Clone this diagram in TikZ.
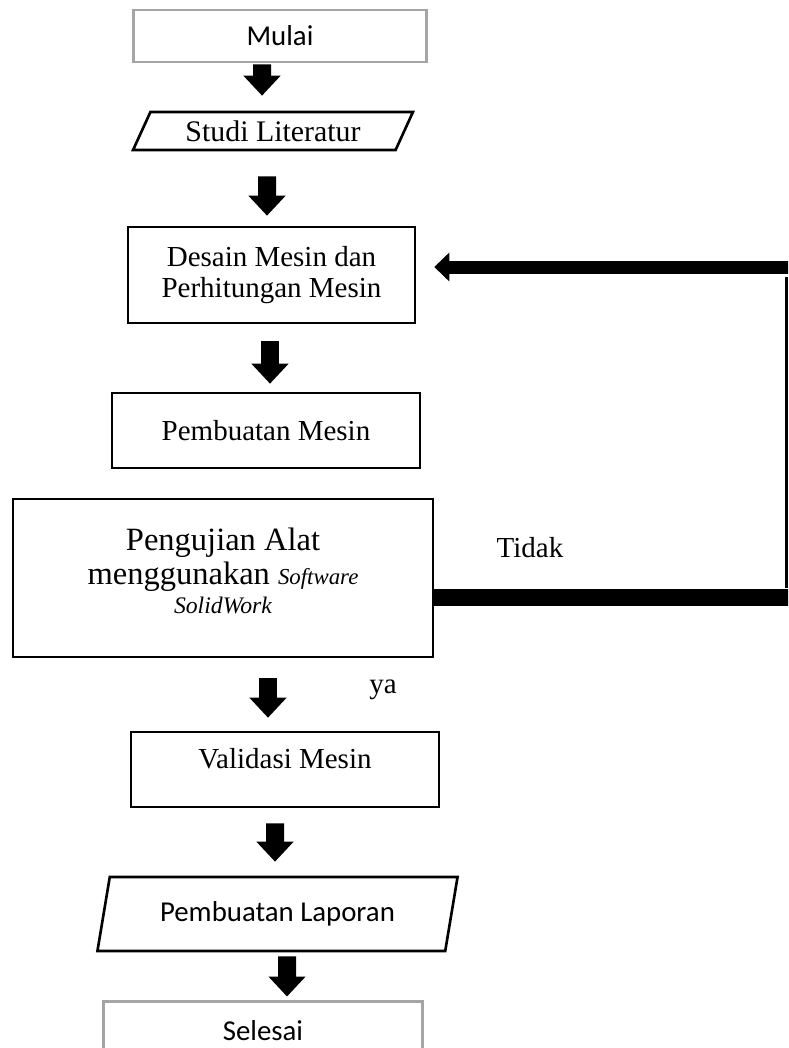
\documentclass[tikz,border=0pt]{standalone}
\usepackage{fontspec}
\setmainfont{Liberation Serif}
\newfontfamily\calibri{Carlito}
\usetikzlibrary{shapes, arrows.meta, positioning, calc}
\definecolor{boxgray}{HTML}{A5A5A5}
\tikzset{terminal/.style={draw=boxgray, line width=1.7pt, align=center, font=\calibri\fontsize{16.4}{19}\selectfont}}
\tikzset{process/.style={draw, line width=1.5pt, align=center}}
\tikzset{io/.style={draw, line width=1.5pt, trapezium, trapezium stretches=true, align=center}}
\tikzset{blockarrow/.style={line width=0.36cm, -{Triangle[length=0.4cm, width=0.72cm]}}}
\tikzset{loopline/.style={line width=0.34cm}}
\tikzset{looparrow/.style={line width=0.26cm, -{Triangle[length=0.3cm, width=0.56cm]}}}

\begin{document}
\begin{tikzpicture}[x=0.02cm, y=-0.02cm, font=\fontsize{16.5}{17.6}\selectfont]
\clip (0,0) rectangle (788,1048);
\node[terminal, minimum width=5.88cm, minimum height=1.04cm] (start) at (280,36) {Mulai};
\node[io, trapezium left angle=68, trapezium right angle=112, minimum width=5.6cm, minimum height=0.76cm, font=\fontsize{17}{19}\selectfont] (studi) at (273,131) {Studi Literatur};
\node[process, minimum width=5.74cm, minimum height=1.92cm] (design) at (271.5,275) {Desain Mesin dan\\Perhitungan Mesin};
\node[process, minimum width=6.16cm, minimum height=1.5cm] (build) at (266,430.5) {Pembuatan Mesin};
\node[process, minimum width=8.4cm, minimum height=3.16cm, font=\fontsize{18.5}{19}\selectfont, text depth=8pt] (test) at (223,578) {Pengujian Alat\\menggunakan {\itshape\fontsize{13}{15}\selectfont Software}\\[-2pt]{\itshape\fontsize{13.5}{15}\selectfont SolidWork}};
\node[process, minimum width=6.16cm, minimum height=1.5cm, text depth=13pt] (valid) at (285,769.5) {Validasi Mesin};
\node[io, trapezium left angle=76, trapezium right angle=104, minimum width=7.22cm, minimum height=1.48cm, font=\calibri\fontsize{16.4}{19}\selectfont] (report) at (277.5,914) {Pembuatan Laporan};
\node[terminal, minimum width=6.4cm, minimum height=1.18cm] (stop) at (263,1030.5) {Selesai};

\node (no) at (530,548) {Tidak};
\node (yes) at (383,690) {ya};

\draw[blockarrow] ($(start.south)+(-18,1)$) -- ($(studi.north)+(-11,-15)$);
\draw[blockarrow] ($(studi.south)+(-6,25)$) -- ($(design.north)+(-4.5,-10)$);
\draw[blockarrow] ($(design.south)+(-1.5,17)$) -- ($(build.north)+(4,-8)$);
\draw[blockarrow] ($(test.south)+(45,20)$) -- ($(valid.north)+(-17,-13)$);
\draw[blockarrow] ($(valid.south)+(-10,15)$) -- ($(report.north)+(-2.5,-14)$);
\draw[blockarrow] ($(report.south)+(9.5,4)$) -- ($(stop.north)+(24,-3)$);

\coordinate (fbbot) at (786,597);
\coordinate (fbtop) at (786,267);
\draw[loopline] (test.east |- fbbot) -- ($(fbbot)+(4,0)$);
\draw[line width=0.06cm] ($(fbbot)+(0,-9)$) -- ($(fbtop)+(0,10)$);
\draw[looparrow] ($(fbtop)+(4,0)$) -- ($(design.east |- fbtop)+(18,0)$);
\end{tikzpicture}
\end{document}
